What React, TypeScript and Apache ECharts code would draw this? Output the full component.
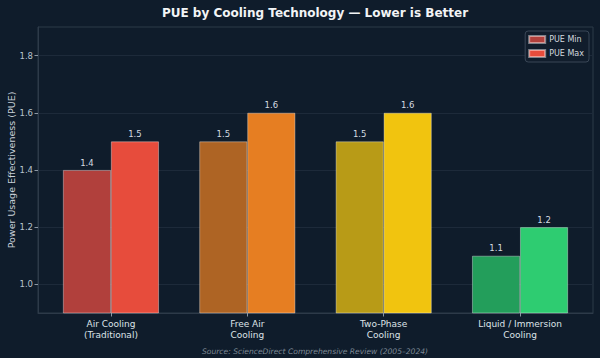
import React, { useEffect, useRef } from "react";
import * as echarts from "echarts";

const categories = ["Air Cooling\n(Traditional)", "Free Air\nCooling", "Two-Phase\nCooling", "Liquid / Immersion\nCooling"];
const pueMin = [1.4, 1.5, 1.5, 1.1];
const pueMax = [1.5, 1.6, 1.6, 1.2];
const minColors = ["#b1403c", "#ae6424", "#b89b17", "#239e5b"];
const maxColors = ["#e74c3c", "#e67e22", "#f1c40f", "#2ecc71"];
const yTicks = [1.0, 1.2, 1.4, 1.6, 1.8];
const xTicks = [0, 1, 2, 3];

const FONT = "DejaVu Sans";
const BG = "#0f1c2b";

export default function App() {
  const ref = useRef<HTMLDivElement>(null);
  useEffect(() => {
    if (!ref.current) return;
    const chart = echarts.init(ref.current, null, { renderer: "svg" });
    const edge = { borderColor: "rgba(255,255,255,0.45)", borderWidth: 0.8 };
    const label = {
      show: true,
      position: "top" as const,
      distance: 3,
      color: "#d5dbe1",
      fontSize: 8.5,
      fontFamily: FONT,
      formatter: (p: any) => Number(p.value[1]).toFixed(1),
    };
    chart.setOption({
      animation: false,
      backgroundColor: BG,
      textStyle: { fontFamily: FONT },
      graphic: [
        {
          type: "text",
          x: 315,
          y: 13,
          style: {
            text: "PUE by Cooling Technology \u2014 Lower is Better",
            fill: "#f2f4f6",
            font: `bold 12px '${FONT}'`,
            textAlign: "center",
            textVerticalAlign: "middle",
          },
        },
        {
          type: "text",
          x: 11,
          y: 170,
          rotation: Math.PI / 2,
          style: {
            text: "Power Usage Effectiveness (PUE)",
            fill: "#c9d1d9",
            font: `9.5px '${FONT}'`,
            textAlign: "center",
            textVerticalAlign: "middle",
          },
        },
        {
          type: "text",
          x: 315,
          y: 351,
          style: {
            text: "Source: ScienceDirect Comprehensive Review (2005\u20132024)",
            fill: "#7d8894",
            font: `italic 7.6px '${FONT}'`,
            textAlign: "center",
            textVerticalAlign: "middle",
          },
        },
      ],
      legend: {
        right: 11,
        top: 31,
        orient: "vertical",
        icon: "rect",
        itemWidth: 16,
        itemHeight: 7,
        itemGap: 5,
        padding: [4, 5, 4, 3],
        backgroundColor: "#111d2c",
        borderColor: "#3a4757",
        borderWidth: 1,
        borderRadius: 3,
        textStyle: { color: "#d3d9df", fontSize: 8, fontFamily: FONT, padding: [0, 0, 0, -1] },
        data: ["PUE Min", "PUE Max"],
      },
      grid: {
        left: 38,
        top: 27,
        right: 7,
        bottom: 45,
        containLabel: false,
        outerBoundsMode: "none",
        show: true,
        borderColor: "#2d3a49",
        borderWidth: 1,
        backgroundColor: BG,
      },
      xAxis: {
        type: "value",
        min: -0.535,
        max: 3.535,
        splitLine: { show: false },
        axisLine: { show: true, onZero: false, lineStyle: { color: "#2d3a49" } },
        axisTick: { show: true, customValues: xTicks, length: 3.5, lineStyle: { color: "#8a96a3" } },
        axisLabel: {
          customValues: xTicks,
          formatter: (v: number) => categories[Math.round(v)] ?? "",
          color: "#dde3e8",
          fontSize: 9,
          fontFamily: FONT,
          lineHeight: 11.5,
          margin: 5,
        },
      },
      yAxis: {
        type: "value",
        min: 0.9,
        max: 1.9,
        axisLine: { show: true, onZero: false, lineStyle: { color: "#2d3a49" } },
        axisTick: { show: true, customValues: yTicks, length: 3.5, lineStyle: { color: "#8a96a3" } },
        axisLabel: {
          customValues: yTicks,
          formatter: (v: number) => v.toFixed(1),
          color: "#b9c3cd",
          fontSize: 8.5,
          fontFamily: FONT,
          margin: 5,
        },
        splitLine: { show: true, lineStyle: { color: "#1d2a3a", width: 1 } },
      },
      series: [
        {
          name: "PUE Min",
          type: "bar",
          barWidth: 48,
          barGap: "0%",
          color: minColors[0],
          itemStyle: { ...edge },
          label,
          data: pueMin.map((v, i) => ({ value: [i, v], itemStyle: { color: minColors[i], ...edge } })),
        },
        {
          name: "PUE Max",
          type: "bar",
          barWidth: 48,
          barGap: "0%",
          color: maxColors[0],
          itemStyle: { ...edge },
          label,
          data: pueMax.map((v, i) => ({ value: [i, v], itemStyle: { color: maxColors[i], ...edge } })),
        },
      ],
    });
    return () => chart.dispose();
  }, []);
  return (
    <div
      ref={ref}
      style={{ position: "fixed", left: 0, top: 0, width: 600, height: 358, background: BG }}
    />
  );
}
